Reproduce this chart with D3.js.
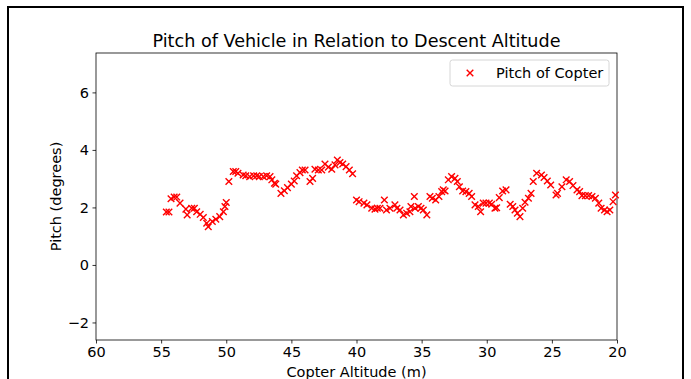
<!DOCTYPE html>
<html>
<head>
<meta charset="utf-8">
<script src="https://cdn.jsdelivr.net/npm/d3@7"></script>
<style>
  html, body { margin: 0; padding: 0; background: #fff; }
  svg { display: block; font-family: "DejaVu Sans", sans-serif; }
</style>
</head>
<body>
<svg id="chart" width="691" height="379"></svg>
<script>
// Copter altitude (m) for each sample, in descent order
const altitude = [
  54.6, 54.4, 54.24, 54.0, 53.8, 53.55, 53.1, 53.0, 52.65, 52.45, 52.27, 52.0, 51.76, 51.5, 51.38,
  51.07, 50.8, 50.5, 50.22, 50.1, 50.0, 49.8, 49.46, 49.27, 49.1, 48.7, 48.5, 48.2, 47.9, 47.66,
  47.46, 47.15, 46.9, 46.64, 46.5, 46.3, 46.2, 45.8, 45.54, 45.3, 45.0, 44.78, 44.6, 44.34, 44.16,
  43.95, 43.57, 43.37, 43.19, 42.93, 42.67, 42.42, 42.16, 41.9, 41.65, 41.47, 41.27, 41.06, 40.8,
  40.55, 40.3, 40.0, 39.8, 39.43, 39.2, 38.83, 38.58, 38.4, 38.2, 37.86, 37.7, 37.43, 37.05, 36.9,
  36.66, 36.4, 36.15, 35.9, 35.82, 35.56, 35.5, 35.25, 35.05, 34.87, 34.6, 34.36, 34.18, 33.92,
  33.67, 33.46, 33.34, 33.2, 32.95, 32.7, 32.44, 32.26, 32.1, 31.85, 31.6, 31.35, 31.16, 30.9,
  30.65, 30.47, 30.27, 30.06, 29.8, 29.62, 29.37, 29.24, 29.04, 28.78, 28.52, 28.2, 28.0, 27.83,
  27.65, 27.45, 27.24, 27.06, 26.8, 26.6, 26.43, 26.17, 25.8, 25.6, 25.35, 25.09, 24.68, 24.57,
  24.23, 23.9, 23.64, 23.38, 23.07, 22.87, 22.69, 22.43, 22.18, 21.92, 21.66, 21.4, 21.22, 20.96,
  20.76, 20.55, 20.3, 20.12
];
// Pitch (degrees) at each altitude sample
const pitch = [
  1.84, 1.84, 2.30, 2.36, 2.36, 2.15, 1.94, 1.74, 1.97, 1.97, 1.85, 1.76, 1.65, 1.45, 1.33,
  1.51, 1.59, 1.68, 1.85, 2.03, 2.17, 2.90, 3.25, 3.25, 3.19, 3.13, 3.10, 3.07, 3.10, 3.10,
  3.07, 3.07, 3.10, 3.07, 2.96, 2.84, 2.81, 2.49, 2.58, 2.69, 2.81, 2.92, 3.10, 3.21, 3.30,
  3.30, 2.90, 3.01, 3.33, 3.30, 3.30, 3.51, 3.40, 3.33, 3.48, 3.65, 3.56, 3.51, 3.42,
  3.30, 3.17, 2.26, 2.20, 2.15, 2.09, 1.97, 1.94, 1.97, 1.97, 2.26, 1.91, 1.97, 2.09, 1.97,
  1.91, 1.74, 1.80, 1.85, 2.03, 2.38, 1.97, 2.03, 1.97, 1.91, 1.74, 2.38, 2.32, 2.26,
  2.38, 2.55, 2.61, 2.57, 2.96, 3.07, 3.01, 2.90, 2.72, 2.57, 2.55, 2.49, 2.38, 2.09,
  2.03, 1.85, 2.15, 2.15, 2.15, 2.11, 1.97, 1.99, 2.34, 2.57, 2.61, 2.11, 2.03, 1.91,
  1.80, 1.68, 1.97, 2.18, 2.32, 2.49, 2.90, 3.19, 3.13, 3.04, 2.92, 2.78, 2.43, 2.49,
  2.72, 2.96, 2.90, 2.76, 2.61, 2.55, 2.41, 2.41, 2.41, 2.38, 2.32, 2.15, 1.97, 1.91,
  1.85, 1.91, 2.20, 2.43
];
const xTicks = [60, 55, 50, 45, 40, 35, 30, 25, 20];
const yTicks = [-2, 0, 2, 4, 6];
const seriesName = "Pitch of Copter";
const titleText = "Pitch of Vehicle in Relation to Descent Altitude";
const xLabel = "Copter Altitude (m)";
const yLabel = "Pitch (degrees)";

const svg = d3.select("#chart");
const plot = { left: 96, right: 617, top: 53, bottom: 340 };
const labelSize = "14.5px";

// figure frame
svg.append("rect")
  .attr("x", 8).attr("y", 7).attr("width", 675).attr("height", 380)
  .attr("fill", "none").attr("stroke", "#000").attr("stroke-width", 2);

const x = d3.scaleLinear().domain([60, 20]).range([plot.left, plot.right]);
const y = d3.scaleLinear().domain([-2.61, 7.37]).range([plot.bottom, plot.top]);

const fmt = d => d < 0 ? "\u2212" + Math.abs(d) : String(d);

// x axis
const gx = svg.append("g")
  .attr("transform", `translate(0,${plot.bottom})`)
  .call(d3.axisBottom(x).tickValues(xTicks).tickFormat(fmt).tickSize(3.5).tickPadding(3.5));
// y axis
const gy = svg.append("g")
  .attr("transform", `translate(${plot.left},0)`)
  .call(d3.axisLeft(y).tickValues(yTicks).tickFormat(fmt).tickSize(3.5).tickPadding(3.5));

[gx, gy].forEach(g => {
  g.select(".domain").remove();
  g.selectAll(".tick line").attr("stroke", "#000").attr("stroke-width", 0.8);
  g.selectAll(".tick text").attr("fill", "#000")
    .style("font-family", "DejaVu Sans").style("font-size", labelSize);
});

// plot frame
svg.append("rect")
  .attr("x", plot.left).attr("y", plot.top)
  .attr("width", plot.right - plot.left).attr("height", plot.bottom - plot.top)
  .attr("fill", "none").attr("stroke", "#000").attr("stroke-width", 0.8);

// scatter markers drawn as "x"
const s = 3.3;
const xPath = `M${-s},${-s}L${s},${s}M${-s},${s}L${s},${-s}`;
svg.append("g").selectAll("path")
  .data(altitude.map((a, i) => [a, pitch[i]]))
  .join("path")
  .attr("transform", d => `translate(${x(d[0])},${y(d[1])})`)
  .attr("d", xPath)
  .attr("stroke", "#ff0000").attr("stroke-width", 1.4).attr("fill", "none");

// title
svg.append("text")
  .attr("x", (plot.left + plot.right) / 2).attr("y", 47)
  .attr("text-anchor", "middle")
  .style("font-size", "17.6px").attr("fill", "#000")
  .text(titleText);

// axis labels
svg.append("text")
  .attr("x", (plot.left + plot.right) / 2).attr("y", 377)
  .attr("text-anchor", "middle")
  .style("font-size", labelSize).attr("fill", "#000")
  .text(xLabel);
svg.append("text")
  .attr("transform", `translate(61,${(plot.top + plot.bottom) / 2}) rotate(-90)`)
  .attr("text-anchor", "middle")
  .style("font-size", labelSize).attr("fill", "#000")
  .text(yLabel);

// legend
const lg = svg.append("g");
lg.append("rect")
  .attr("x", 450).attr("y", 60).attr("width", 159).attr("height", 26)
  .attr("rx", 2.5).attr("fill", "#fff").attr("fill-opacity", 0.8)
  .attr("stroke", "#cccccc").attr("stroke-width", 0.8);
lg.append("path")
  .attr("transform", "translate(470,73)")
  .attr("d", xPath)
  .attr("stroke", "#ff0000").attr("stroke-width", 1.4).attr("fill", "none");
lg.append("text")
  .attr("x", 496).attr("y", 78)
  .style("font-size", labelSize).attr("fill", "#000")
  .text(seriesName);
</script>
</body>
</html>
